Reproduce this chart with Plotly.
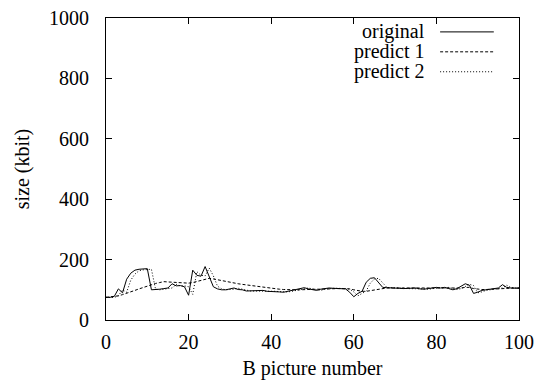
import plotly.graph_objects as go

frames = list(range(0, 101))

original = [75, 75, 78, 103, 90, 135, 155, 165, 168, 170,
            170, 100, 100, 102, 104, 106, 120, 113, 114, 110,
            82, 165, 148, 145, 177, 145, 110, 103, 100, 100,
            102, 106, 101, 100, 96, 96, 97, 96, 98, 95,
            95, 94, 93, 92, 95, 98, 100, 104, 107, 103,
            100, 98, 102, 105, 106, 105, 105, 104, 103, 92,
            77, 88, 95, 125, 138, 140, 125, 108, 107, 107,
            106, 105, 104, 104, 105, 106, 103, 102, 104, 106,
            108, 106, 108, 104, 100, 104, 112, 120, 115, 88,
            92, 98, 100, 102, 104, 106, 117, 108, 106, 106,
            105]

predict1 = [75, 76, 77, 80, 84, 88, 93, 98, 103, 108,
            113, 118, 121, 124, 127, 126, 125, 124, 124, 123,
            122, 124, 128, 132, 136, 138, 136, 133, 130, 127,
            124, 122, 120, 118, 116, 114, 112, 110, 108, 106,
            104, 103, 102, 101, 100, 100, 100, 100, 101, 102,
            102, 102, 102, 103, 103, 104, 104, 104, 104, 103,
            100, 97, 95, 95, 97, 100, 103, 105, 106, 106,
            106, 106, 106, 106, 106, 106, 105, 105, 105, 105,
            106, 106, 106, 106, 105, 105, 106, 108, 108, 104,
            102, 101, 101, 102, 103, 104, 105, 106, 106, 106,
            106]

predict2 = [75, 75, 75, 80, 100, 92, 132, 152, 163, 166,
            168, 168, 102, 100, 102, 104, 106, 118, 113, 113,
            110, 85, 160, 148, 146, 172, 146, 112, 103, 100,
            100, 102, 105, 101, 99, 96, 96, 97, 96, 97,
            95, 95, 94, 93, 93, 95, 98, 100, 104, 106,
            103, 100, 98, 102, 104, 105, 105, 105, 104, 102,
            93, 80, 88, 96, 122, 136, 138, 124, 108, 107,
            107, 106, 105, 104, 104, 105, 105, 103, 102, 104,
            106, 107, 106, 108, 104, 101, 104, 111, 118, 114,
            90, 93, 98, 100, 102, 104, 106, 115, 108, 106,
            106]

series_names = ["original", "predict 1", "predict 2"]
series_dash = ["solid", "3px,2px", "1px,2px"]

FONT = "Liberation Serif"
FS = 20

fig = go.Figure()
for name, ys, dash in zip(series_names, [original, predict1, predict2], series_dash):
    fig.add_trace(go.Scatter(x=frames, y=ys, mode="lines", name=name,
                             line=dict(color="black", width=1, dash=dash),
                             showlegend=False))

# gnuplot-style key: text right-aligned, sample line to the right
key_y = [0.954, 0.888, 0.822]
for name, dash, ky in zip(series_names, series_dash, key_y):
    fig.add_annotation(x=0.778, y=ky, xref="paper", yref="paper", text=name,
                       showarrow=False, xanchor="right", yanchor="middle",
                       font=dict(family=FONT, size=FS, color="black"))
    fig.add_shape(type="line", xref="paper", yref="paper",
                  x0=0.809, x1=0.939, y0=ky, y1=ky,
                  line=dict(color="black", width=1, dash=dash))

axis_common = dict(showline=True, linecolor="black", linewidth=1, mirror="ticks",
                   ticks="inside", ticklen=6, tickcolor="black", showgrid=False,
                   zeroline=False, tickfont=dict(family=FONT, size=FS, color="black"))

fig.update_xaxes(range=[0, 100], dtick=20, tick0=0,
                 title=dict(text="B picture number", font=dict(family=FONT, size=FS, color="black"),
                            standoff=8),
                 ticklabelstandoff=4, **axis_common)
fig.update_yaxes(range=[0, 1000], dtick=200, tick0=0,
                 title=dict(text="size (kbit)", font=dict(family=FONT, size=FS, color="black"),
                            standoff=14),
                 ticklabelstandoff=12, **axis_common)

fig.update_layout(width=538, height=387, margin=dict(l=106, r=19, t=18, b=67, autoexpand=False),
                  font=dict(family=FONT, size=FS, color="black"),
                  plot_bgcolor="white", paper_bgcolor="white")

fig.write_html("out.html")
